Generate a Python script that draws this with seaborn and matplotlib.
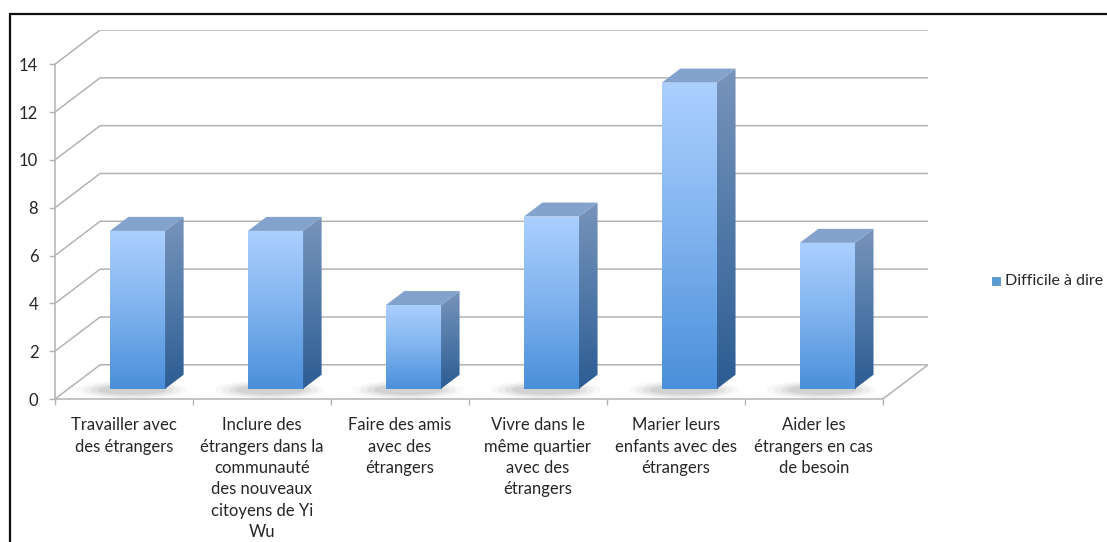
import numpy as np
import matplotlib
matplotlib.use("Agg")
from matplotlib import pyplot as plt
from matplotlib.patches import Polygon, Rectangle, Ellipse
import seaborn as sns
import pandas as pd

# valeurs
categories = [
    "Travailler avec des étrangers",
    "Inclure des étrangers dans la communauté des nouveaux citoyens de Yi Wu",
    "Faire des amis avec des étrangers",
    "Vivre dans le même quartier avec des étrangers",
    "Marier leurs enfants avec des étrangers",
    "Aider les étrangers en cas de besoin",
]
tick_labels = [
    "Travailler avec\ndes étrangers",
    "Inclure des\nétrangers dans la\ncommunauté\ndes nouveaux\ncitoyens de Yi\nWu",
    "Faire des amis\navec des\nétrangers",
    "Vivre dans le\nmême quartier\navec des\nétrangers",
    "Marier leurs\nenfants avec des\nétrangers",
    "Aider les\nétrangers en cas\nde besoin",
]
values = [6.6, 6.6, 3.5, 7.2, 12.8, 6.1]
series_name = "Difficile à dire"
y_ticks = [0, 2, 4, 6, 8, 10, 12, 14]

W, H = 1107, 542
DX, DY = 0.327, 1.43        # decalage de profondeur (mur du fond)
D_FRONT, D_THICK = 0.30, 0.41
GRID = "#b3b3b3"
TXT = "#262626"
FS = 12

sns.set_style("white")
plt.rcParams["font.family"] = ["Lato", "DejaVu Sans"]

fig = plt.figure(figsize=(W / 100, H / 100), dpi=100)
ax = fig.add_axes([55 / W, (H - 399) / H, (928 - 55) / W, (399 - 30) / H])
ax.set_facecolor("none")

df = pd.DataFrame({"cat": categories, "val": values})
sns.barplot(data=df, x="cat", y="val", width=0.4, color="#5b9bd5",
            linewidth=0, ax=ax, zorder=4)

xmin, xmax = -0.5, len(categories) - 0.5

# murs et grille
for v in y_ticks:
    ax.plot([xmin, xmin + DX, xmax + DX], [v, v + DY, v + DY],
            color=GRID, lw=1.1, zorder=1, solid_capstyle="butt")
ax.plot([xmax, xmax + DX], [0, DY], color=GRID, lw=1.1, zorder=1)

front_grad = np.linspace(0, 1, 256).reshape(-1, 1)
cmap_front = matplotlib.colors.LinearSegmentedColormap.from_list(
    "f", ["#4a8fda", "#7fb2ee", "#abd0ff"])
cmap_side = matplotlib.colors.LinearSegmentedColormap.from_list(
    "s", ["#2c5c93", "#5179a8", "#7894bb"])

for p in list(ax.patches):
    x0 = p.get_x() + D_FRONT * DX
    y0 = D_FRONT * DY
    w = p.get_width()
    h = p.get_height()
    p.set_x(x0)
    p.set_y(y0)
    x1, y1 = x0 + w, y0 + h
    tx, ty = D_THICK * DX, D_THICK * DY

    # ombre sur le sol
    for k, a in enumerate([0.04, 0.06, 0.08, 0.10]):
        sh = Ellipse((x0 + w * 0.4, y0 - 0.05), w * (2.0 - k * 0.25),
                     0.8 - k * 0.13, facecolor="#505050", alpha=a,
                     edgecolor="none", zorder=2)
        ax.add_patch(sh)

    im = ax.imshow(front_grad, extent=[x0, x1, y0, y1], origin="lower",
                   cmap=cmap_front, aspect="auto", zorder=4)
    im.set_clip_path(p)

    side = Polygon([(x1, y0), (x1, y1), (x1 + tx, y1 + ty), (x1 + tx, y0 + ty)],
                   closed=True, facecolor="none", edgecolor="none", zorder=4)
    ax.add_patch(side)
    im2 = ax.imshow(front_grad, extent=[x1, x1 + tx, y0, y1 + ty], origin="lower",
                    cmap=cmap_side, aspect="auto", zorder=4)
    im2.set_clip_path(side)

    top = Polygon([(x0, y1), (x1, y1), (x1 + tx, y1 + ty), (x0 + tx, y1 + ty)],
                  closed=True, facecolor="#84a3cc", edgecolor="none", zorder=5)
    ax.add_patch(top)

ax.set_xlim(xmin, xmax + DX)
ax.set_ylim(0, 14 + DY)

for s in ["top", "right"]:
    ax.spines[s].set_visible(False)
ax.spines["left"].set_bounds(0, 14)
ax.spines["bottom"].set_bounds(xmin, xmax)
for s in ["left", "bottom"]:
    ax.spines[s].set_color(GRID)
    ax.spines[s].set_linewidth(1.1)

ax.set_yticks(y_ticks)
ax.set_yticklabels([str(v) for v in y_ticks])
ax.set_xticks(np.arange(xmin, xmax + 0.01, 1.0))
ax.set_xticklabels([])
ax.set_xticks(np.arange(len(categories)), minor=True)
ax.set_xticklabels(tick_labels, minor=True, linespacing=1.42, ha="center", va="top")
ax.tick_params(axis="y", direction="out", length=4, width=1, color=GRID,
               pad=8, labelsize=FS, labelcolor=TXT, left=True)
ax.tick_params(axis="x", which="major", direction="out", length=4, width=1,
               color=GRID, bottom=True)
ax.tick_params(axis="x", which="minor", length=0, pad=13, labelsize=FS,
               labelcolor=TXT)
ax.set_xlabel("")
ax.set_ylabel("")

# legende
fig.patches.append(Rectangle((992 / W, (H - 285) / H), 8 / W, 8 / H,
                             transform=fig.transFigure, facecolor="#5b9bd5",
                             edgecolor="#4a85c0", lw=0.5, figure=fig))
fig.text(1005 / W, (H - 281) / H, series_name, fontsize=11.5, color=TXT,
         va="center", ha="left")

# cadre
fig.patches.append(Rectangle((10 / W, -0.05), 1.2, (H - 14) / H + 0.05,
                             transform=fig.transFigure, facecolor="none",
                             edgecolor="#111111", lw=1.6, figure=fig))

fig.savefig("out.png", dpi=100)
